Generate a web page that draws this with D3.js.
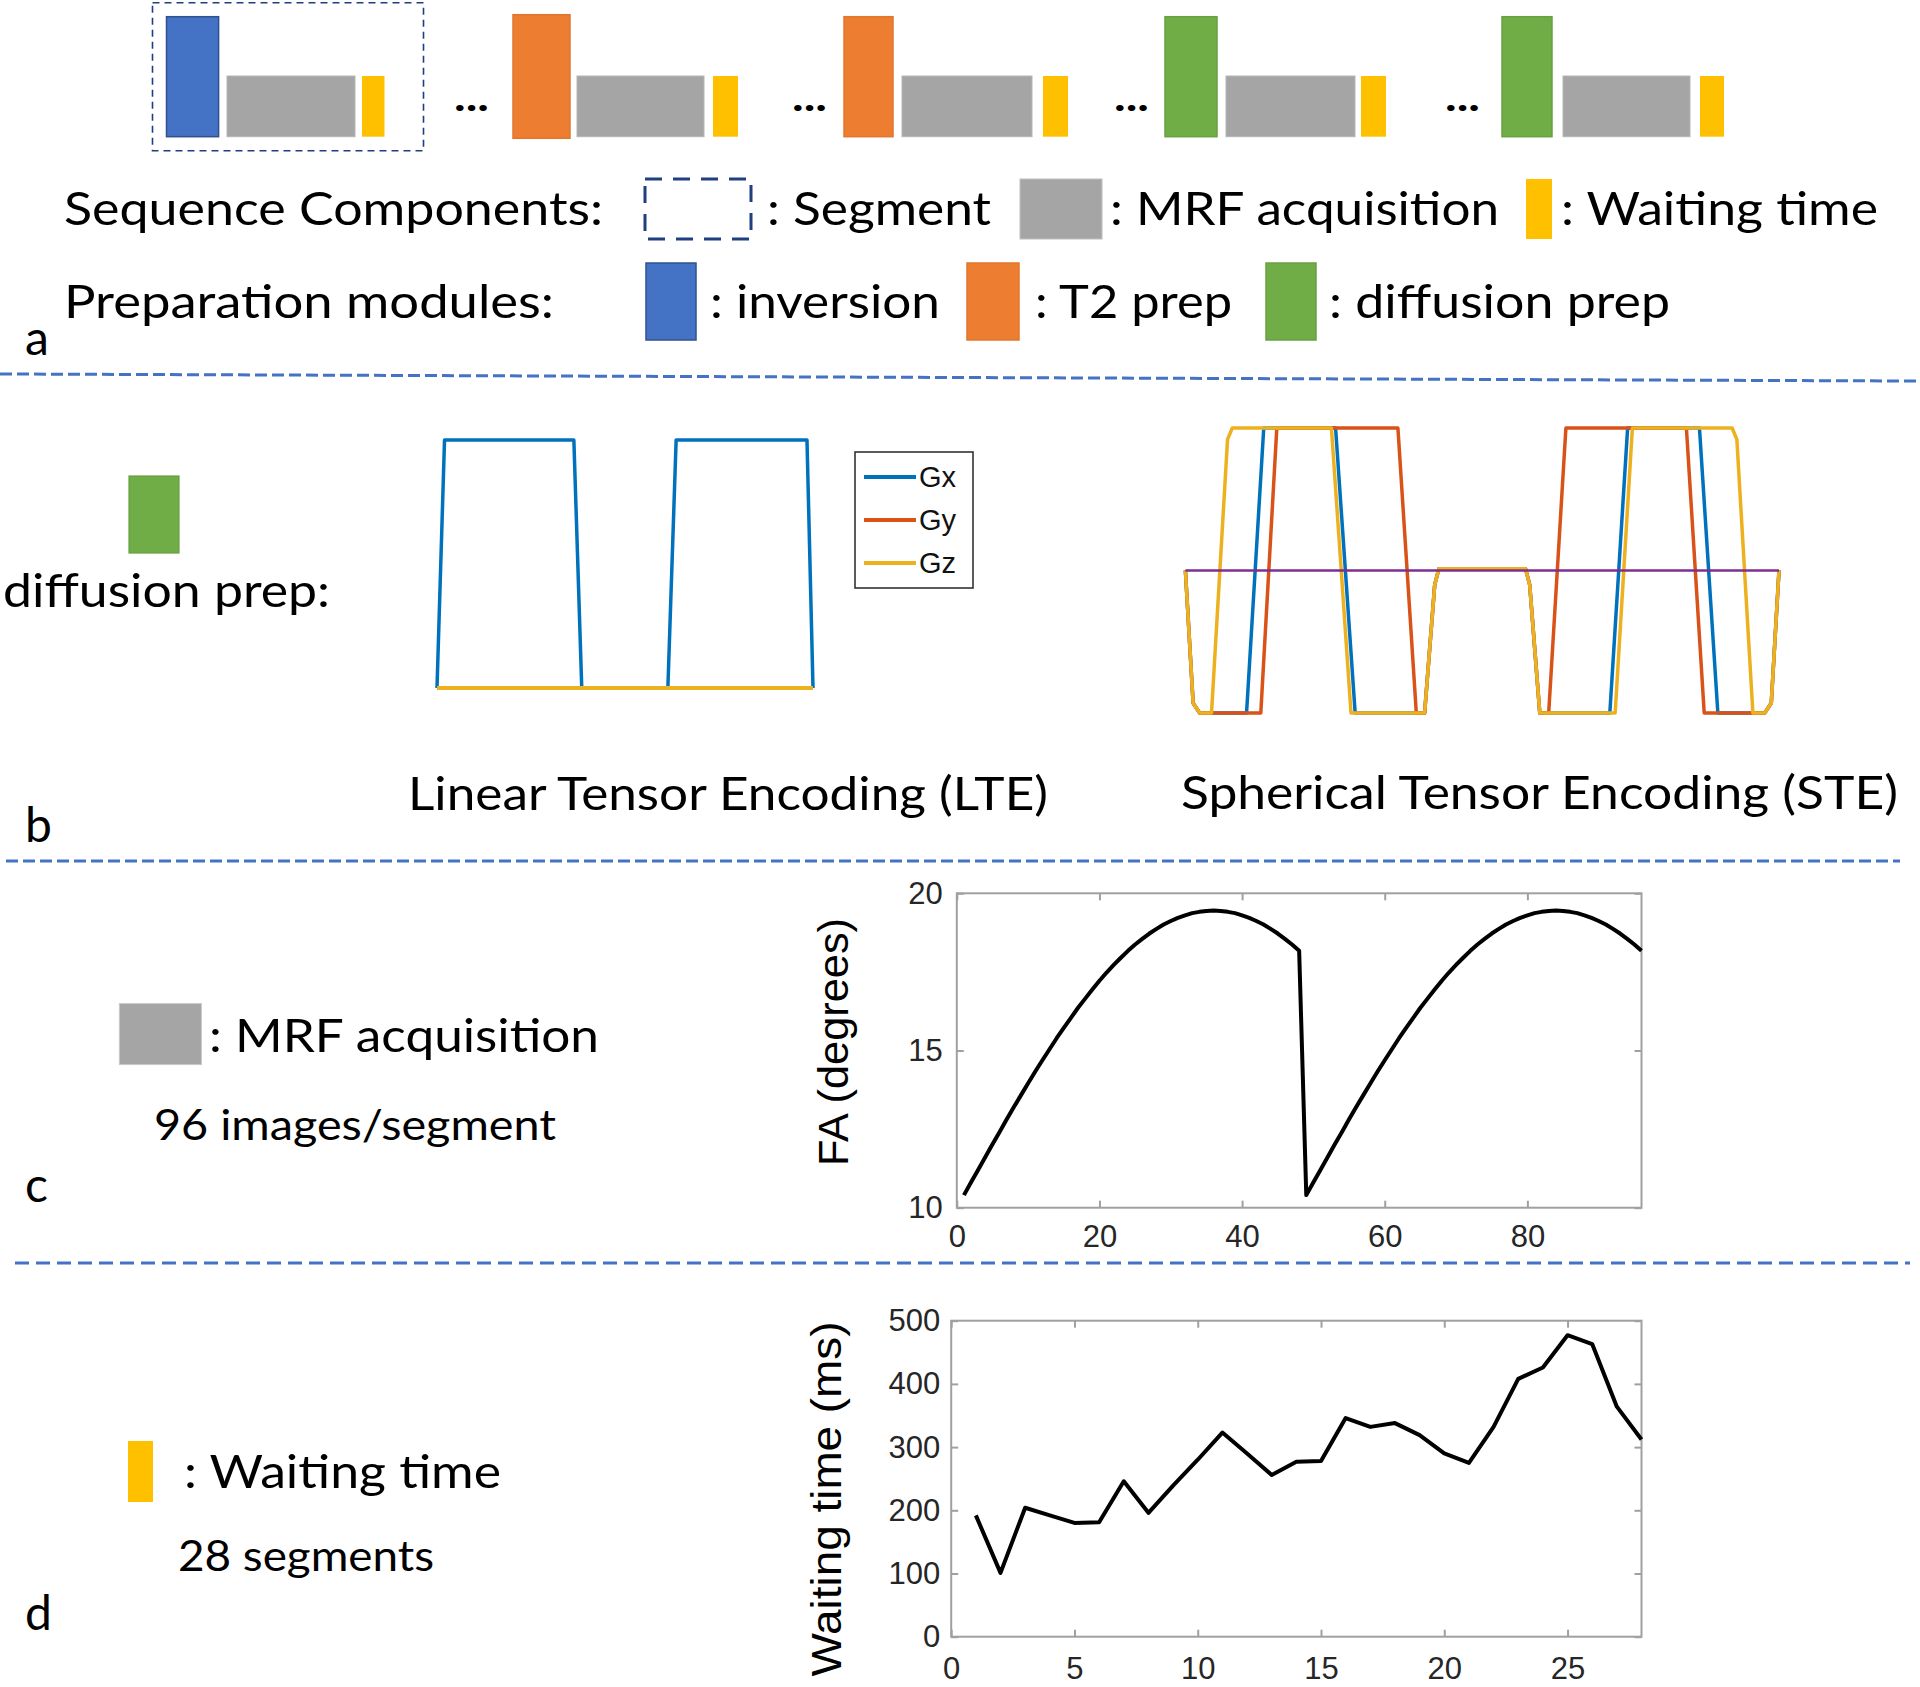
<!DOCTYPE html>
<html><head><meta charset="utf-8">
<script src="https://cdn.jsdelivr.net/npm/d3@7/dist/d3.min.js"></script>
<style>body{margin:0;background:#fff}svg{display:block}</style>
</head><body>
<svg id="fig" width="1920" height="1687"></svg>
<script>
// ================= DATA =================
// (a) sequence: preparation module used in each shown segment
const segmentPreps = ["inversion", "T2 prep", "T2 prep", "diffusion prep", "diffusion prep"];
const prepModules = ["inversion", "T2 prep", "diffusion prep"];
const sequenceComponents = ["Segment", "MRF acquisition", "Waiting time"];

// (b) gradient waveforms, LTE: [time (a.u.), amplitude (normalised)]
const lteGx = [[0,0],[2,1],[36.4,1],[38.5,0],[61.4,0],[63.6,1],[98.4,1],[100,0]];
const lteGy = [[0,0],[100,0]];
const lteGz = [[0,0],[100,0]];
const lteSeries = ["Gx", "Gy", "Gz"];

// (b) gradient waveforms, STE
const steGx = [[0,0],[1.3,-0.93],[2.4,-1],[10.3,-1],[13.2,1],[25.3,1],[28.6,-1],[40.3,-1],[42.0,-0.1],[42.7,0.012],
  [57.3,0.012],[58.0,-0.1],[59.7,-1],[71.5,-1],[74.5,1],[86.6,1],[89.7,-1],[97.6,-1],[98.7,-0.93],[100,0]];
const steGy = [[0,0],[1.3,-0.93],[2.4,-1],[12.7,-1],[15.4,1],[35.8,1],[38.9,-1],[40.3,-1],[42.0,-0.1],[42.7,0.012],
  [57.3,0.012],[58.0,-0.1],[59.7,-1],[61.2,-1],[64.1,1],[84.4,1],[87.4,-1],[97.6,-1],[98.7,-0.93],[100,0]];
const steGz = [[0,0],[1.3,-0.93],[2.4,-1],[4.4,-1],[7.1,0.92],[7.9,1],[24.6,1],[27.9,-1],[40.3,-1],[42.0,-0.1],[42.7,0.012],
  [57.3,0.012],[58.0,-0.1],[59.7,-1],[72.4,-1],[75.3,1],[92.1,1],[92.9,0.92],[95.6,-1],[97.6,-1],[98.7,-0.93],[100,0]];
const steZero = [[0,0],[100,0]];

// (c) flip angle per image (96 images / segment)
const faImage = d3.range(1, 97);
const faDegrees = [
  10.40,10.81,11.21,11.61,12.02,12.41,12.81,13.20,13.58,13.96,14.33,14.69,15.04,15.39,15.72,16.04,
  16.36,16.65,16.94,17.22,17.48,17.72,17.95,18.17,18.37,18.55,18.72,18.87,19.01,19.12,19.22,19.30,
  19.37,19.41,19.44,19.45,19.44,19.41,19.37,19.30,19.22,19.12,19.01,18.87,18.72,18.55,18.37,18.17,
  10.40,10.81,11.21,11.61,12.02,12.41,12.81,13.20,13.58,13.96,14.33,14.69,15.04,15.39,15.72,16.04,
  16.36,16.65,16.94,17.22,17.48,17.72,17.95,18.17,18.37,18.55,18.72,18.87,19.01,19.12,19.22,19.30,
  19.37,19.41,19.44,19.45,19.44,19.41,19.37,19.30,19.22,19.12,19.01,18.87,18.72,18.55,18.37,18.17];
const faXTicks = [0, 20, 40, 60, 80];
const faYTicks = [10, 15, 20];

// (d) waiting time per segment (28 segments)
const wtSegment = d3.range(1, 29);
const wtMs = [192, 101, 204, 192, 180, 181, 246, 196, 239, 280, 323, 290, 256, 277, 278, 346,
  332, 338, 319, 290, 275, 332, 408, 426, 477, 463, 364, 312];
const wtXTicks = [0, 5, 10, 15, 20, 25];
const wtYTicks = [0, 100, 200, 300, 400, 500];

// ================= STYLE / LAYOUT =================
const prepColor = {"inversion": "#4472C4", "T2 prep": "#ED7D31", "diffusion prep": "#70AD47"};
const prepStroke = {"inversion": "#2F528F", "T2 prep": "#E0772E", "diffusion prep": "#67A142"};
const grayFill = "#A5A5A5", yellowFill = "#FFC000", navy = "#203F80", divider = "#4472C4";
const gColor = {Gx: "#0072BD", Gy: "#D95319", Gz: "#EDB120"};
const calibri = "Lato, 'Open Sans', sans-serif";
const helv = "'Liberation Sans', Arial, sans-serif";

const svg = d3.select("#fig");
svg.append("rect").attr("width", 1920).attr("height", 1687).attr("fill", "#fff");

function txt(x, y, s, size, len, opts = {}) {
  const t = svg.append("text").attr("x", x).attr("y", y).text(s)
    .attr("font-family", opts.family || calibri).attr("font-size", size)
    .attr("fill", opts.fill || "#000");
  if (len) t.attr("textLength", len).attr("lengthAdjust", "spacingAndGlyphs");
  return t;
}

// ---------------- (a) ----------------
// layout of the five drawn segments (pixel positions)
const segLayout = [
  {prep: [166.5, 218.6, 16.7, 136.7], gray: [227, 355], wait: [362, 384.5]},
  {prep: [513, 570, 14.7, 138.3], gray: [577, 704], wait: [713, 738]},
  {prep: [844, 893, 16.7, 136.7], gray: [902, 1032], wait: [1043, 1068]},
  {prep: [1165, 1217, 16.7, 136.7], gray: [1226, 1355], wait: [1361, 1386]},
  {prep: [1502, 1552, 16.7, 136.7], gray: [1563, 1690], wait: [1700, 1724]}
];
const lowTop = 76, lowBot = 136.7;
const segG = svg.append("g");
segG.selectAll("rect.prep").data(segmentPreps).join("rect").attr("class", "prep")
  .attr("x", (d, i) => segLayout[i].prep[0]).attr("y", (d, i) => segLayout[i].prep[2])
  .attr("width", (d, i) => segLayout[i].prep[1] - segLayout[i].prep[0])
  .attr("height", (d, i) => segLayout[i].prep[3] - segLayout[i].prep[2])
  .attr("fill", d => prepColor[d]).attr("stroke", d => prepStroke[d]).attr("stroke-width", 1.5);
segG.selectAll("rect.acq").data(segmentPreps).join("rect").attr("class", "acq")
  .attr("x", (d, i) => segLayout[i].gray[0]).attr("y", lowTop)
  .attr("width", (d, i) => segLayout[i].gray[1] - segLayout[i].gray[0]).attr("height", lowBot - lowTop)
  .attr("fill", grayFill).attr("stroke", "#B5B5B5").attr("stroke-width", 1);
segG.selectAll("rect.wait").data(segmentPreps).join("rect").attr("class", "wait")
  .attr("x", (d, i) => segLayout[i].wait[0]).attr("y", lowTop)
  .attr("width", (d, i) => segLayout[i].wait[1] - segLayout[i].wait[0]).attr("height", lowBot - lowTop)
  .attr("fill", yellowFill);
// ellipses between segments
[454, 792, 1114, 1445].forEach(x => txt(x, 111, "...", 40, 35, {}).attr("font-weight", "bold"));
// dashed segment box
svg.append("rect").attr("x", 152.5).attr("y", 2.7).attr("width", 271).attr("height", 148)
  .attr("fill", "none").attr("stroke", navy).attr("stroke-width", 1.6).attr("stroke-dasharray", "7,5");

// legend rows
txt(64, 225, "Sequence Components:", 46, 539);
svg.append("rect").attr("x", 645).attr("y", 179).attr("width", 106).attr("height", 60)
  .attr("fill", "none").attr("stroke", navy).attr("stroke-width", 3).attr("stroke-dasharray", "17,11");
txt(767, 225, ": " + sequenceComponents[0], 46, 224);
svg.append("rect").attr("x", 1020).attr("y", 179).attr("width", 82).attr("height", 60)
  .attr("fill", grayFill).attr("stroke", "#C0C0C0").attr("stroke-width", 1);
txt(1110, 225, ": " + sequenceComponents[1], 46, 389);
svg.append("rect").attr("x", 1526).attr("y", 179).attr("width", 26).attr("height", 60).attr("fill", yellowFill);
txt(1561, 225, ": " + sequenceComponents[2], 46, 317);

txt(64, 318, "Preparation modules:", 46, 490);
const prepLegend = [
  {box: [646, 696], text: [710, 230]},
  {box: [967, 1019], text: [1035, 197]},
  {box: [1266, 1316], text: [1329, 341]}
];
prepModules.forEach((m, i) => {
  const L = prepLegend[i];
  svg.append("rect").attr("x", L.box[0]).attr("y", 263).attr("width", L.box[1] - L.box[0]).attr("height", 77)
    .attr("fill", prepColor[m]).attr("stroke", prepStroke[m]).attr("stroke-width", 1.5);
  txt(L.text[0], 318, ": " + m, 46, L.text[1]);
});
txt(25, 355, "a", 48);

// divider lines
function dashed(x1, y1, x2, y2, dash) {
  svg.append("line").attr("x1", x1).attr("y1", y1).attr("x2", x2).attr("y2", y2)
    .attr("stroke", divider).attr("stroke-width", 3).attr("stroke-dasharray", dash);
}
dashed(0, 374, 1916, 381, "12,5");
dashed(6, 861, 1900, 861, "12,5");
dashed(15, 1263, 1910, 1263, "14,7");

// ---------------- (b) ----------------
svg.append("rect").attr("x", 129).attr("y", 476).attr("width", 50).attr("height", 77)
  .attr("fill", prepColor["diffusion prep"]).attr("stroke", prepStroke["diffusion prep"]).attr("stroke-width", 1.2);
txt(3, 607, "diffusion prep:", 46, 327);
txt(25, 842, "b", 48);

// LTE
const lx = d3.scaleLinear().domain([0, 100]).range([437, 813]);
const ly = d3.scaleLinear().domain([0, 1]).range([688, 440]);
const lteLine = d3.line().x(d => lx(d[0])).y(d => ly(d[1]));
const lteData = {Gx: lteGx, Gy: lteGy, Gz: lteGz};
lteSeries.forEach(s => {
  svg.append("path").attr("d", lteLine(lteData[s])).attr("fill", "none")
    .attr("stroke", gColor[s]).attr("stroke-width", s === "Gx" ? 3.5 : 4).attr("stroke-linejoin", "round");
});
// legend
svg.append("rect").attr("x", 855).attr("y", 452).attr("width", 118).attr("height", 136)
  .attr("fill", "#fff").attr("stroke", "#333").attr("stroke-width", 1.6);
const legY = d3.scalePoint().domain(lteSeries).range([477, 563]);
lteSeries.forEach(s => {
  svg.append("line").attr("x1", 864).attr("x2", 916).attr("y1", legY(s)).attr("y2", legY(s))
    .attr("stroke", gColor[s]).attr("stroke-width", 4);
  txt(919, legY(s) + 10, s, 29, null, {family: helv, fill: "#111"});
});
txt(408, 810, "Linear Tensor Encoding (LTE)", 46, 640);

// STE
const sx = d3.scaleLinear().domain([0, 100]).range([1185.4, 1779]);
const sy = d3.scaleLinear().domain([-1, 1]).range([713, 428]);
const steLine = d3.line().x(d => sx(d[0])).y(d => sy(d[1]));
[["Gx", steGx], ["Gy", steGy], ["Gz", steGz]].forEach(([s, data]) => {
  svg.append("path").attr("d", steLine(data)).attr("fill", "none")
    .attr("stroke", gColor[s]).attr("stroke-width", 3.5).attr("stroke-linejoin", "round");
});
svg.append("path").attr("d", steLine(steZero)).attr("fill", "none")
  .attr("stroke", "#7E2F8E").attr("stroke-width", 2.5);
txt(1181, 809, "Spherical Tensor Encoding (STE)", 46, 717);

// ---------------- (c) ----------------
svg.append("rect").attr("x", 119.4).attr("y", 1003.6).attr("width", 82).attr("height", 61)
  .attr("fill", grayFill).attr("stroke", "#C8C8C8").attr("stroke-width", 1);
txt(209, 1052, ": MRF acquisition", 46, 390);
txt(154, 1140, "96 images/segment", 42, 402);
txt(25, 1202, "c", 48);

function matlabAxes(x, y, xTicks, yTicks, xPad, yPad) {
  const [x0, x1] = x.range(), [y0, y1] = y.range();
  const g = svg.append("g");
  g.append("rect").attr("x", x0).attr("y", y1).attr("width", x1 - x0).attr("height", y0 - y1)
    .attr("fill", "none").attr("stroke", "#A0A0A0").attr("stroke-width", 2);
  const style = sel => {
    sel.select(".domain").remove();
    sel.selectAll(".tick line").attr("stroke", "#A0A0A0").attr("stroke-width", 2);
    sel.selectAll(".tick text").attr("font-family", helv).attr("font-size", 31).attr("fill", "#262626");
  };
  g.append("g").attr("transform", `translate(0,${y0})`)
    .call(d3.axisBottom(x).tickValues(xTicks).tickSize(-7).tickPadding(xPad).tickFormat(d3.format("d"))).call(style);
  g.append("g").attr("transform", `translate(0,${y1})`)
    .call(d3.axisTop(x).tickValues(xTicks).tickSize(-7).tickFormat("")).call(style);
  g.append("g").attr("transform", `translate(${x0},0)`)
    .call(d3.axisLeft(y).tickValues(yTicks).tickSize(-7).tickPadding(yPad).tickFormat(d3.format("d"))).call(style);
  g.append("g").attr("transform", `translate(${x1},0)`)
    .call(d3.axisRight(y).tickValues(yTicks).tickSize(-7).tickFormat("")).call(style);
  return g;
}

const fx = d3.scaleLinear().domain([0, 96]).range([956.8, 1641.5]);
const fy = d3.scaleLinear().domain([10, 20]).range([1207.7, 893.3]);
matlabAxes(fx, fy, faXTicks, faYTicks, 17, 14);
svg.append("path").datum(faImage.map((n, i) => [n, faDegrees[i]]))
  .attr("d", d3.line().x(d => fx(d[0])).y(d => fy(d[1])))
  .attr("fill", "none").attr("stroke", "#000").attr("stroke-width", 4).attr("stroke-linejoin", "round");
svg.append("text").attr("transform", "translate(848,1042) rotate(-90)").attr("text-anchor", "middle")
  .attr("font-family", helv).attr("font-size", 42).attr("fill", "#000")
  .attr("textLength", 248).attr("lengthAdjust", "spacingAndGlyphs").text("FA (degrees)");

// ---------------- (d) ----------------
svg.append("rect").attr("x", 128).attr("y", 1441).attr("width", 25).attr("height", 61).attr("fill", yellowFill);
txt(184, 1488, ": Waiting time", 46, 317);
txt(178, 1571, "28 segments", 42, 256);
txt(25, 1630, "d", 48);

const wx = d3.scaleLinear().domain([0, 28]).range([951.2, 1641.5]);
const wy = d3.scaleLinear().domain([0, 500]).range([1636.7, 1320.7]);
matlabAxes(wx, wy, wtXTicks, wtYTicks, 20, 11);
svg.append("path").datum(wtSegment.map((n, i) => [n, wtMs[i]]))
  .attr("d", d3.line().x(d => wx(d[0])).y(d => wy(d[1])))
  .attr("fill", "none").attr("stroke", "#000").attr("stroke-width", 4).attr("stroke-linejoin", "round");
svg.append("text").attr("transform", "translate(841,1499) rotate(-90)").attr("text-anchor", "middle")
  .attr("font-family", helv).attr("font-size", 42).attr("fill", "#000")
  .attr("textLength", 355).attr("lengthAdjust", "spacingAndGlyphs").text("Waiting time (ms)");
</script>
</body></html>
